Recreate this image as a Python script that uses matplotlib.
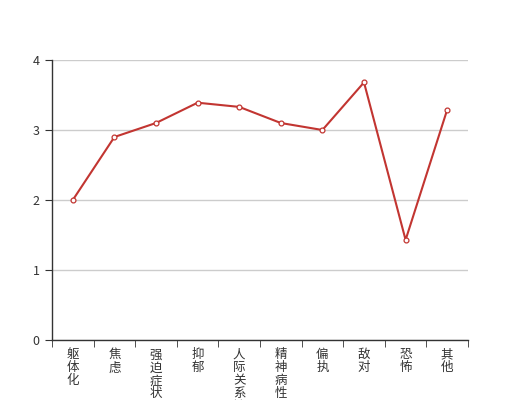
import matplotlib
matplotlib.use("Agg")
import matplotlib.pyplot as plt
import numpy as np

plt.rcParams['font.family'] = ['Noto Sans CJK SC', 'DejaVu Sans']

categories = ["躯体化", "焦虑", "强迫症状", "抑郁", "人际关系敏感", "精神病性", "偏执", "敌对", "恐怖", "其他"]
values = [2.0, 2.9, 3.1, 3.39, 3.33, 3.1, 3.0, 3.68, 1.43, 3.29]
yticks = [0, 1, 2, 3, 4]

fig = plt.figure(figsize=(5.2, 4.0), dpi=100)
ax = fig.add_axes([0.1, 0.15, 0.8, 0.7])

x = np.arange(len(categories))
ax.plot(x, values, color="#c23531", lw=1.5, marker="o", ms=3.5,
        mfc="white", mec="#c23531", mew=0.9, zorder=3)

ax.set_xlim(-0.5, len(categories) - 0.5)
ax.set_ylim(0, 4)
ax.set_yticks(yticks)
ax.set_yticklabels([str(v) for v in yticks])
ax.grid(axis="y", color="#cccccc", lw=1)
ax.set_axisbelow(True)

ax.set_xticks(x)
ax.set_xticklabels(["\n".join(c) for c in categories], linespacing=1.0,
                   va="top", fontsize=9, color="#333333")
ax.set_xticks(np.arange(len(categories) + 1) - 0.5, minor=True)
ax.tick_params(axis="x", which="major", length=0, pad=6)
ax.tick_params(axis="x", which="minor", length=5, color="#333333", direction="out")
ax.tick_params(axis="y", length=5, color="#333333", labelsize=9, labelcolor="#333333", pad=4)

for s in ["top", "right"]:
    ax.spines[s].set_visible(False)
for s in ["left", "bottom"]:
    ax.spines[s].set_color("#333333")
    ax.spines[s].set_linewidth(1)

fig.savefig("out.png", dpi=100)
